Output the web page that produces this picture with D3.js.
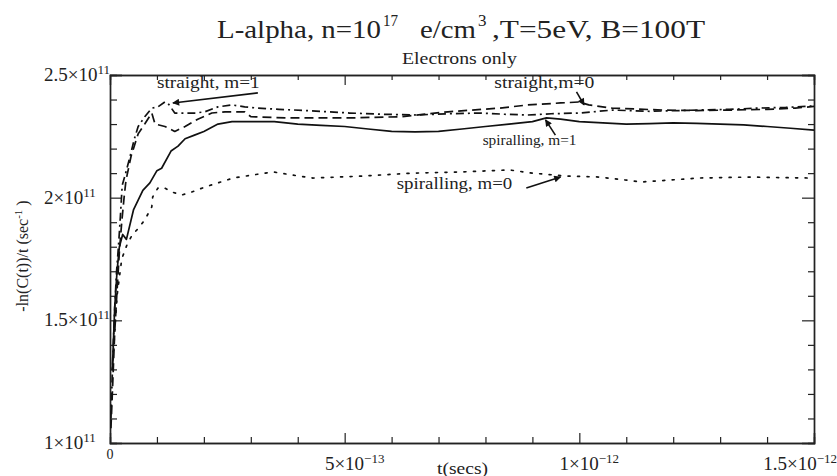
<!DOCTYPE html>
<html>
<head>
<meta charset="utf-8">
<script src="https://cdn.jsdelivr.net/npm/d3@7"></script>
<style>
  body { margin: 0; background: #fff; }
</style>
</head>
<body>
<svg width="837" height="476" font-family="'Liberation Serif', 'DejaVu Serif', serif"></svg>
<script>
// t in units of 1e-13 s, rate in units of 1e11 1/s
var straightM1 = [
  [0.02, 1.10], [0.06, 1.35], [0.10, 1.55], [0.14, 1.70], [0.18, 1.80], [0.22, 1.92],
  [0.26, 2.05], [0.32, 2.09], [0.43, 2.17], [0.52, 2.24], [0.60, 2.29], [0.74, 2.33],
  [0.89, 2.365], [1.02, 2.37], [1.17, 2.39], [1.23, 2.386], [1.38, 2.345], [1.60, 2.345],
  [1.81, 2.345], [2.02, 2.35], [2.30, 2.37], [2.60, 2.378], [2.87, 2.37], [3.15, 2.365],
  [3.6, 2.36], [4.2, 2.355], [5.1, 2.345], [5.8, 2.34], [6.5, 2.337], [7.2, 2.342],
  [7.9, 2.345], [8.4, 2.34], [8.9, 2.337], [9.4, 2.342], [10.0, 2.345], [10.7, 2.357],
  [11.5, 2.352], [12.5, 2.357], [13.2, 2.36], [13.8, 2.365], [14.4, 2.368], [15.0, 2.374]
];

var straightM0 = [
  [0.02, 1.06], [0.06, 1.25], [0.10, 1.45], [0.15, 1.62], [0.20, 1.78], [0.25, 1.90],
  [0.30, 2.00], [0.34, 2.07], [0.45, 2.17], [0.60, 2.26], [0.74, 2.30], [0.89, 2.345],
  [0.96, 2.30], [1.17, 2.29], [1.38, 2.27], [1.60, 2.29], [1.87, 2.32], [2.17, 2.345],
  [2.45, 2.35], [2.87, 2.35], [3.0, 2.33], [3.8, 2.325], [4.5, 2.325], [5.1, 2.325],
  [6.2, 2.33], [7.2, 2.35], [8.3, 2.365], [8.9, 2.378], [9.6, 2.386], [10.0, 2.39],
  [10.2, 2.378], [10.7, 2.365], [11.8, 2.357], [12.5, 2.355], [13.2, 2.357], [14.0, 2.36],
  [14.6, 2.365], [15.0, 2.372]
];

var spiralM1 = [
  [0.05, 1.30], [0.10, 1.55], [0.15, 1.70], [0.20, 1.80], [0.27, 1.85], [0.35, 1.83],
  [0.50, 1.95], [0.60, 1.99], [0.70, 2.03], [0.85, 2.06], [1.00, 2.11], [1.10, 2.12],
  [1.30, 2.19], [1.45, 2.21], [1.60, 2.24], [1.80, 2.255], [2.00, 2.27], [2.30, 2.30],
  [2.60, 2.31], [3.0, 2.31], [3.5, 2.31], [4.0, 2.30], [4.5, 2.295], [5.0, 2.29],
  [5.5, 2.28], [6.0, 2.27], [6.5, 2.268], [7.0, 2.27], [7.5, 2.28], [8.0, 2.29],
  [8.5, 2.30], [9.0, 2.31], [9.3, 2.325], [9.6, 2.32], [10.0, 2.31], [10.5, 2.305],
  [11.0, 2.30], [11.5, 2.302], [12.0, 2.305], [12.5, 2.303], [13.0, 2.30], [13.5, 2.297],
  [14.0, 2.29], [14.5, 2.283], [15.0, 2.275]
];

var spiralM0 = [
  [0.05, 1.30], [0.15, 1.60], [0.25, 1.75], [0.36, 1.807], [0.47, 1.848], [0.57, 1.868],
  [0.74, 1.909], [0.89, 1.962], [0.91, 2.003], [1.02, 2.039], [1.13, 2.043], [1.32, 2.023],
  [1.53, 2.011], [1.74, 2.023], [2.02, 2.043], [2.62, 2.08], [3.47, 2.105], [3.89, 2.092],
  [4.32, 2.08], [5.38, 2.088], [6.45, 2.10], [7.51, 2.105], [8.51, 2.113], [9.0, 2.10],
  [9.72, 2.088], [10.43, 2.084], [11.34, 2.064], [12.55, 2.08], [13.62, 2.084], [14.9, 2.08]
];

var xMinor = [1, 2, 3, 4, 6, 7, 8, 9, 11, 12, 13, 14];
var xMajor = [5, 10, 15];
var yMinor = [1.1, 1.2, 1.3, 1.4, 1.6, 1.7, 1.8, 1.9, 2.1, 2.2, 2.3, 2.4];
var yMajor = [1.5, 2, 2.5];
var xLabels = [[5, "5×10", "−13"], [10, "1×10", "−12"], [15, "1.5×10", "−12"]];
var yLabels = [[2.5, "2.5×10", "11"], [2, "2×10", "11"], [1.5, "1.5×10", "11"], [1, "1×10", "11"]];

// label text, start point, end t, arrow tail, arrow head (data units)
var notes = [
  ["straight, m=1", [1.0, 2.447], 3.19, [3.15, 2.427], [1.34, 2.386]],
  ["straight,m=0", [8.19, 2.447], 10.32, [9.94, 2.431], [10.1, 2.378]],
  ["spiralling, m=1", [7.94, 2.213], 9.94, [9.49, 2.255], [9.28, 2.317]],
  ["spiralling, m=0", [6.11, 2.035], 8.57, [8.87, 2.039], [9.6, 2.084]]
];

var svg = d3.select("svg"),
  margin = {top: 75, right: 23, bottom: 33, left: 110},
  width = +svg.attr("width") - margin.left - margin.right,
  height = +svg.attr("height") - margin.top - margin.bottom;

var x = d3.scaleLinear().domain([0, 15]).range([margin.left, margin.left + width]);
var y = d3.scaleLinear().domain([1, 2.5]).range([margin.top + height, margin.top]);

svg.append("defs").append("marker")
  .attr("id", "arr")
  .attr("viewBox", "0 0 10 10")
  .attr("refX", 9).attr("refY", 5)
  .attr("markerWidth", 9).attr("markerHeight", 7)
  .attr("markerUnits", "userSpaceOnUse")
  .attr("orient", "auto")
  .append("path").attr("d", "M0,0L10,5L0,10z").attr("fill", "#111");

// frame and ticks
function tickAxis(axis, pos, vals, size) {
  var g = svg.append("g")
    .attr("transform", pos)
    .call(axis.tickValues(vals).tickSize(size).tickFormat(""));
  g.select(".domain").attr("stroke", "#222").attr("stroke-width", 1.4);
  g.selectAll(".tick line").attr("stroke", "#222").attr("stroke-width", 1.2);
  return g;
}
var bottomY = y(1), topY = y(2.5), leftX = x(0), rightX = x(15);
tickAxis(d3.axisBottom(x), "translate(0," + bottomY + ")", xMinor, -6);
tickAxis(d3.axisBottom(x), "translate(0," + bottomY + ")", xMajor, -10);
tickAxis(d3.axisTop(x), "translate(0," + topY + ")", xMinor, -5);
tickAxis(d3.axisTop(x), "translate(0," + topY + ")", xMajor, -10);
tickAxis(d3.axisLeft(y), "translate(" + leftX + ",0)", yMinor, -7);
tickAxis(d3.axisLeft(y), "translate(" + leftX + ",0)", yMajor, -12);
tickAxis(d3.axisRight(y), "translate(" + rightX + ",0)", yMinor, -6);
tickAxis(d3.axisRight(y), "translate(" + rightX + ",0)", yMajor, -12);

function txt(xp, yp, size, s) {
  return svg.append("text").attr("x", xp).attr("y", yp)
    .attr("font-family", "'Liberation Serif', 'DejaVu Serif', serif")
    .attr("font-size", size).attr("fill", "#222").text(s);
}
function stretch(t, len) {
  return t.attr("textLength", len).attr("lengthAdjust", "spacingAndGlyphs");
}

// y labels
yLabels.forEach(function(d) {
  var t = txt(44, y(d[0]) + 6, 19, d[1]);
  t.append("tspan").attr("dy", -7).attr("font-size", 13).text(d[2]);
});

// x labels
txt(x(0), bottomY + 16, 14, "0").attr("text-anchor", "middle");
xLabels.forEach(function(d) {
  var t = txt(0, bottomY + 27, 19, d[1]);
  t.append("tspan").attr("dy", -7).attr("font-size", 13).text(d[2]);
  var w = t.node().getComputedTextLength();
  var cx = Math.min(x(d[0]) + 10, 837 - w / 2);
  t.attr("x", cx - w / 2);
});

stretch(txt(437, 474, 16, "t(secs)"), 51);

var yl = txt(0, 0, 16, "-ln(C(t))/t  (sec")
  .attr("transform", "translate(28,256) rotate(-90)")
  .attr("text-anchor", "middle");
yl.append("tspan").attr("dy", -6).attr("font-size", 11).text("-1");
yl.append("tspan").attr("dy", 6).text(" )");

// title
stretch(txt(217, 38, 25, "L-alpha, n=10"), 164);
stretch(txt(383, 26, 17, "17"), 15);
stretch(txt(420, 38, 25, "e/cm"), 56);
txt(478, 26, 17, "3");
stretch(txt(492, 38, 25, ",T=5eV, B=100T"), 213);
stretch(txt(402, 64, 16, "Electrons only"), 115);

// curves
var line = d3.line().x(function(d) { return x(d[0]); }).y(function(d) { return y(d[1]); });
var series = [
  [spiralM0, "2,7.5", "round"],
  [spiralM1, null, "butt"],
  [straightM0, "9,5", "butt"],
  [straightM1, "8,4,2,4", "butt"]
];
series.forEach(function(s) {
  svg.append("path")
    .datum(s[0])
    .attr("fill", "none")
    .attr("stroke", "#111")
    .attr("stroke-width", 1.7)
    .attr("stroke-linejoin", "round")
    .attr("stroke-linecap", s[2])
    .attr("stroke-dasharray", s[1])
    .attr("d", line);
});

// annotations: shrink the font when the label must fit a shorter span
notes.forEach(function(n) {
  var len = x(n[2]) - x(n[1][0]);
  var t = txt(x(n[1][0]), y(n[1][1]), 16, n[0]);
  var w = t.node().getComputedTextLength();
  if (w > len) t.attr("font-size", 16 * len / w);
  stretch(t, len);
  svg.append("line")
    .attr("x1", x(n[3][0])).attr("y1", y(n[3][1]))
    .attr("x2", x(n[4][0])).attr("y2", y(n[4][1]))
    .attr("stroke", "#111").attr("stroke-width", 1.6)
    .attr("marker-end", "url(#arr)");
});
</script>
</body>
</html>
